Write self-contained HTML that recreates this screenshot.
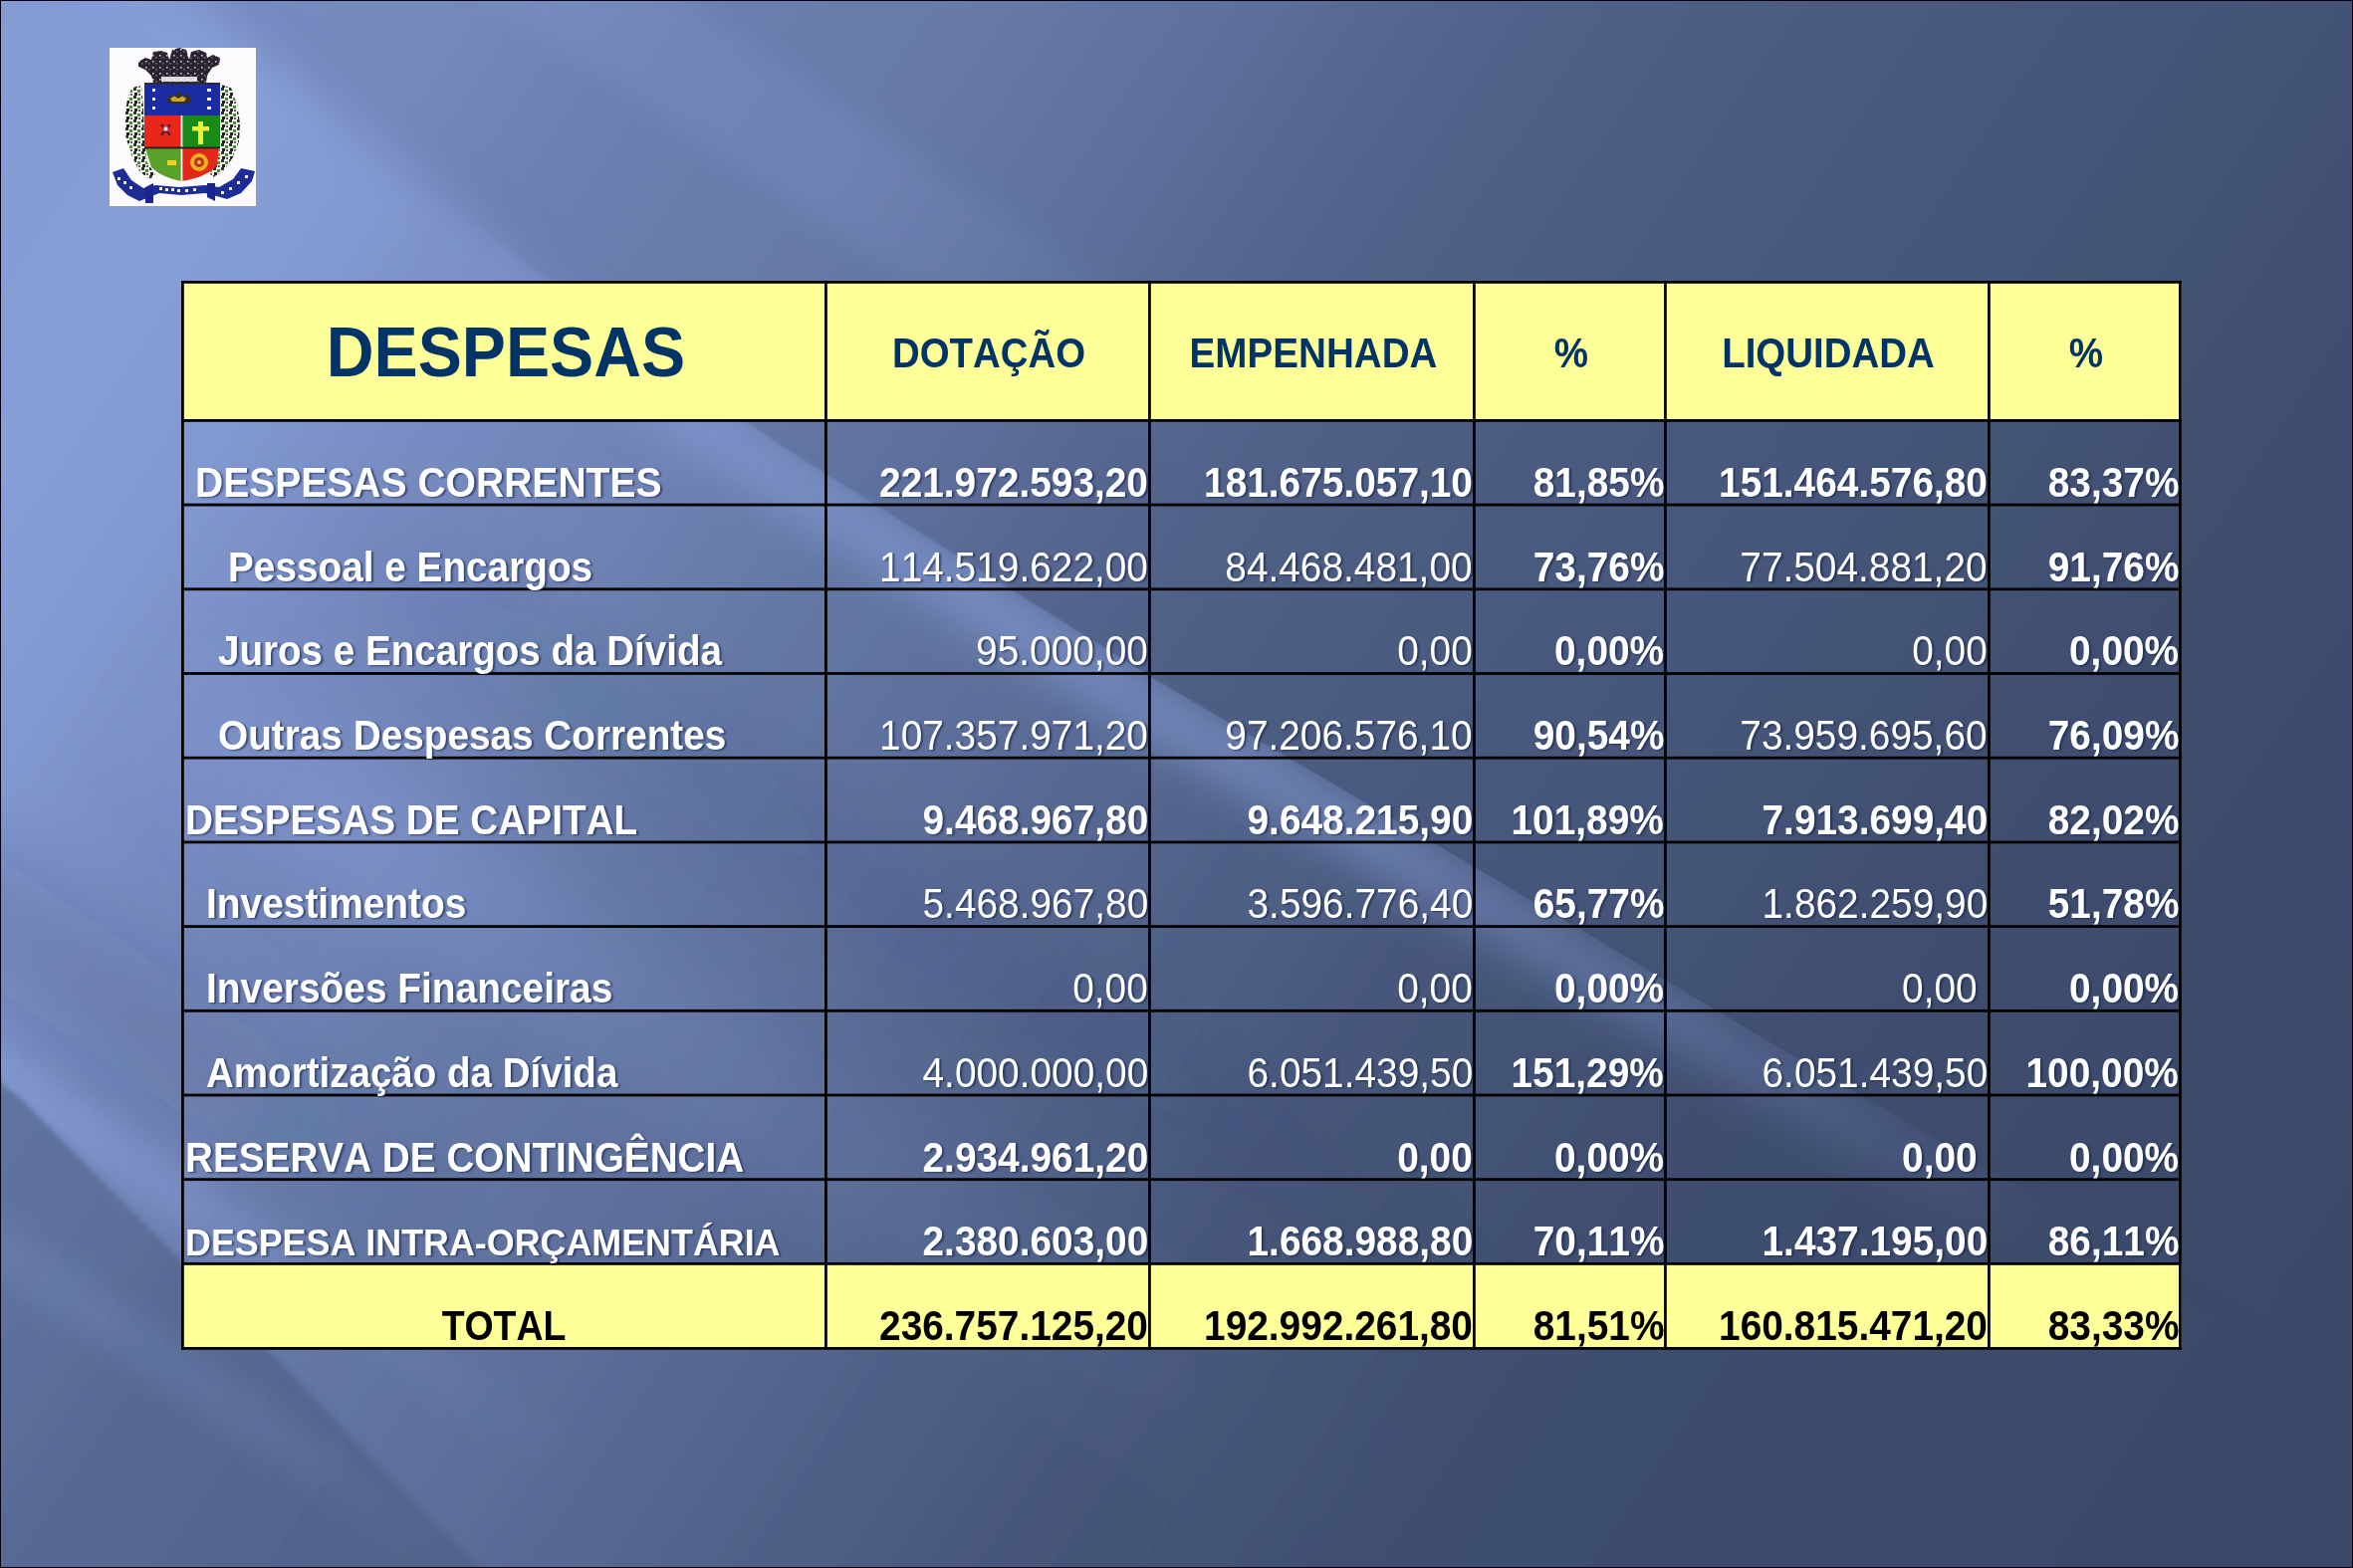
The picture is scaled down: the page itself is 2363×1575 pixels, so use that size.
<!DOCTYPE html>
<html><head><meta charset="utf-8"><title>Despesas</title>
<style>
html,body{margin:0;padding:0;}
body{width:2363px;height:1575px;overflow:hidden;position:relative;background:#000;font-family:"Liberation Sans",Arial,Helvetica,sans-serif;}
.abs{position:absolute;left:0;top:0;}
#bg{position:absolute;left:0;top:0;width:2363px;height:1575px;overflow:hidden;}
.bgl{position:absolute;left:0;top:0;width:2363px;height:1575px;}
#frame{position:absolute;left:0;top:0;width:2363px;height:1575px;box-sizing:border-box;border:1px solid #000014;}
.t{position:absolute;white-space:nowrap;font-weight:bold;font-kerning:none;}
</style></head><body>
<div id="bg"><svg class="abs" width="2363" height="1575" viewBox="0 0 2363 1575">
<defs><linearGradient id="mSharp" gradientUnits="userSpaceOnUse" x1="0" y1="0" x2="2354.3" y2="1588.0"><stop offset="0.0000" stop-color="#fff" stop-opacity="0.000"/><stop offset="0.1585" stop-color="#fff" stop-opacity="0.000"/><stop offset="0.2817" stop-color="#fff" stop-opacity="1.000"/><stop offset="1.0000" stop-color="#fff" stop-opacity="1.000"/></linearGradient><linearGradient id="mSoft" gradientUnits="userSpaceOnUse" x1="0" y1="0" x2="2354.3" y2="1588.0"><stop offset="0.0000" stop-color="#fff" stop-opacity="1.000"/><stop offset="0.1585" stop-color="#fff" stop-opacity="1.000"/><stop offset="0.2817" stop-color="#fff" stop-opacity="0.000"/><stop offset="1.0000" stop-color="#fff" stop-opacity="0.000"/></linearGradient><linearGradient id="gD" gradientUnits="userSpaceOnUse" x1="0" y1="0" x2="2354.3" y2="1588.0"><stop offset="0.0000" stop-color="rgb(120,141,194)" stop-opacity="1.000"/><stop offset="0.1373" stop-color="rgb(116,137,188)" stop-opacity="1.000"/><stop offset="0.1972" stop-color="rgb(108,128,177)" stop-opacity="1.000"/><stop offset="0.2817" stop-color="rgb(103,122,169)" stop-opacity="1.000"/><stop offset="0.3521" stop-color="rgb(95,114,158)" stop-opacity="1.000"/><stop offset="0.4226" stop-color="rgb(84,101,142)" stop-opacity="1.000"/><stop offset="0.5106" stop-color="rgb(76,93,130)" stop-opacity="1.000"/><stop offset="0.5810" stop-color="rgb(73,89,126)" stop-opacity="1.000"/><stop offset="0.6339" stop-color="rgb(70,86,122)" stop-opacity="1.000"/><stop offset="0.6867" stop-color="rgb(67,83,117)" stop-opacity="1.000"/><stop offset="0.7395" stop-color="rgb(64,79,113)" stop-opacity="1.000"/><stop offset="0.8451" stop-color="rgb(60,75,107)" stop-opacity="1.000"/><stop offset="1.0000" stop-color="rgb(58,73,104)" stop-opacity="1.000"/></linearGradient><linearGradient id="gL" gradientUnits="userSpaceOnUse" x1="0" y1="0" x2="2354.3" y2="1588.0"><stop offset="0.0000" stop-color="rgb(132,154,211)" stop-opacity="1.000"/><stop offset="0.0951" stop-color="rgb(135,158,216)" stop-opacity="1.000"/><stop offset="0.2042" stop-color="rgb(125,146,201)" stop-opacity="1.000"/><stop offset="0.2641" stop-color="rgb(114,134,185)" stop-opacity="1.000"/><stop offset="0.3169" stop-color="rgb(105,125,172)" stop-opacity="1.000"/><stop offset="0.3521" stop-color="rgb(100,119,165)" stop-opacity="1.000"/><stop offset="0.4226" stop-color="rgb(93,111,155)" stop-opacity="1.000"/><stop offset="0.4754" stop-color="rgb(86,104,145)" stop-opacity="1.000"/><stop offset="0.5458" stop-color="rgb(78,95,133)" stop-opacity="1.000"/><stop offset="0.5986" stop-color="rgb(71,87,123)" stop-opacity="1.000"/><stop offset="0.6515" stop-color="rgb(67,83,117)" stop-opacity="1.000"/><stop offset="0.7219" stop-color="rgb(63,78,111)" stop-opacity="1.000"/><stop offset="0.8451" stop-color="rgb(60,75,107)" stop-opacity="1.000"/><stop offset="1.0000" stop-color="rgb(58,73,104)" stop-opacity="1.000"/></linearGradient><linearGradient id="gLL" gradientUnits="userSpaceOnUse" x1="0" y1="0" x2="2354.3" y2="1588.0"><stop offset="0.0000" stop-color="rgb(100,119,165)" stop-opacity="1.000"/><stop offset="0.2113" stop-color="rgb(97,116,161)" stop-opacity="1.000"/><stop offset="0.2747" stop-color="rgb(93,111,155)" stop-opacity="1.000"/><stop offset="0.3169" stop-color="rgb(87,105,146)" stop-opacity="1.000"/><stop offset="0.3803" stop-color="rgb(84,101,142)" stop-opacity="1.000"/><stop offset="0.4578" stop-color="rgb(80,97,136)" stop-opacity="1.000"/><stop offset="0.5634" stop-color="rgb(74,90,127)" stop-opacity="1.000"/></linearGradient><linearGradient id="gRim" gradientUnits="userSpaceOnUse" x1="0" y1="0" x2="2354.3" y2="1588.0"><stop offset="0.0000" stop-color="rgb(160,185,252)" stop-opacity="0.000"/><stop offset="0.1761" stop-color="rgb(160,185,252)" stop-opacity="0.000"/><stop offset="0.2817" stop-color="rgb(160,185,252)" stop-opacity="0.300"/><stop offset="0.4226" stop-color="rgb(160,185,252)" stop-opacity="0.380"/><stop offset="0.5634" stop-color="rgb(160,185,252)" stop-opacity="0.380"/><stop offset="0.7043" stop-color="rgb(160,185,252)" stop-opacity="0.250"/><stop offset="0.8451" stop-color="rgb(160,185,252)" stop-opacity="0.000"/></linearGradient><linearGradient id="gD1" gradientUnits="userSpaceOnUse" x1="0" y1="0" x2="2354.3" y2="1588.0"><stop offset="0.0000" stop-color="rgb(40,53,78)" stop-opacity="0.000"/><stop offset="0.1937" stop-color="rgb(40,53,78)" stop-opacity="0.000"/><stop offset="0.2817" stop-color="rgb(40,53,78)" stop-opacity="0.080"/><stop offset="0.5282" stop-color="rgb(40,53,78)" stop-opacity="0.060"/><stop offset="0.7395" stop-color="rgb(40,53,78)" stop-opacity="0.000"/></linearGradient><linearGradient id="gB1" gradientUnits="userSpaceOnUse" x1="0" y1="0" x2="2354.3" y2="1588.0"><stop offset="0.0000" stop-color="rgb(160,185,252)" stop-opacity="0.000"/><stop offset="0.1761" stop-color="rgb(160,185,252)" stop-opacity="0.000"/><stop offset="0.2641" stop-color="rgb(160,185,252)" stop-opacity="0.220"/><stop offset="0.3874" stop-color="rgb(160,185,252)" stop-opacity="0.120"/><stop offset="0.5634" stop-color="rgb(160,185,252)" stop-opacity="0.050"/><stop offset="0.7043" stop-color="rgb(160,185,252)" stop-opacity="0.000"/></linearGradient><linearGradient id="gD2" gradientUnits="userSpaceOnUse" x1="0" y1="0" x2="2354.3" y2="1588.0"><stop offset="0.0000" stop-color="rgb(40,53,78)" stop-opacity="0.150"/><stop offset="0.1761" stop-color="rgb(40,53,78)" stop-opacity="0.150"/><stop offset="0.2817" stop-color="rgb(40,53,78)" stop-opacity="0.100"/><stop offset="0.3874" stop-color="rgb(40,53,78)" stop-opacity="0.000"/></linearGradient><linearGradient id="gR3" gradientUnits="userSpaceOnUse" x1="0" y1="0" x2="2354.3" y2="1588.0"><stop offset="0.0000" stop-color="rgb(160,185,252)" stop-opacity="0.250"/><stop offset="0.2465" stop-color="rgb(160,185,252)" stop-opacity="0.250"/><stop offset="0.3521" stop-color="rgb(160,185,252)" stop-opacity="0.100"/><stop offset="0.4578" stop-color="rgb(160,185,252)" stop-opacity="0.000"/></linearGradient><linearGradient id="gE2" gradientUnits="userSpaceOnUse" x1="0" y1="0" x2="2354.3" y2="1588.0"><stop offset="0.0000" stop-color="rgb(160,185,252)" stop-opacity="0.000"/><stop offset="0.1585" stop-color="rgb(160,185,252)" stop-opacity="0.100"/><stop offset="0.2817" stop-color="rgb(160,185,252)" stop-opacity="0.120"/><stop offset="0.3874" stop-color="rgb(160,185,252)" stop-opacity="0.040"/><stop offset="0.4578" stop-color="rgb(160,185,252)" stop-opacity="0.000"/></linearGradient><linearGradient id="gBS" gradientUnits="userSpaceOnUse" x1="0" y1="0" x2="2354.3" y2="1588.0"><stop offset="0.0000" stop-color="rgb(160,185,252)" stop-opacity="0.000"/><stop offset="0.2641" stop-color="rgb(160,185,252)" stop-opacity="0.120"/><stop offset="0.3521" stop-color="rgb(160,185,252)" stop-opacity="0.100"/><stop offset="0.4578" stop-color="rgb(160,185,252)" stop-opacity="0.000"/></linearGradient>
<filter id="bl2" x="-10%" y="-10%" width="120%" height="120%"><feGaussianBlur stdDeviation="3"/></filter>
<filter id="bRim" x="-10%" y="-10%" width="120%" height="120%"><feGaussianBlur stdDeviation="22"/></filter>
<filter id="bBand" x="-10%" y="-10%" width="120%" height="120%"><feGaussianBlur stdDeviation="35"/></filter>
<filter id="bE" x="-10%" y="-10%" width="120%" height="120%"><feGaussianBlur stdDeviation="12"/></filter>
<filter id="bSoft" x="-10%" y="-10%" width="120%" height="120%"><feGaussianBlur stdDeviation="22"/></filter>
<mask id="mkSharp" maskUnits="userSpaceOnUse" x="-300" y="-300" width="3000" height="2200"><rect x="-300" y="-300" width="3000" height="2200" fill="url(#mSharp)"/></mask>
<mask id="mkSoft" maskUnits="userSpaceOnUse" x="-300" y="-300" width="3000" height="2200"><rect x="-300" y="-300" width="3000" height="2200" fill="url(#mSoft)"/></mask>
<clipPath id="cL"><polygon points="150,-40 250,42 547,280 780,445 1156,680 1481,871 1800,1060 2500,1470 2500,1800 -300,1800 -300,-40"/></clipPath>
<clipPath id="cAboveE3"><polygon points="-100,1009 20,1103 184,1268 520,1615 560,1700 2600,1800 2600,-300 -300,-300"/></clipPath>
<clipPath id="cE3"><polygon points="-100,1009 20,1103 184,1268 520,1615 560,1700 -100,1800"/></clipPath>
<clipPath id="cAboveE1"><polygon points="150,-40 250,42 547,280 780,445 1156,680 1481,871 1800,1060 2500,1470 2600,-300 -300,-300"/></clipPath>
</defs>
<rect width="2363" height="1575" fill="url(#gD)"/>
<polygon points="150,-40 250,42 547,280 780,445 1156,680 1481,871 1800,1060 2500,1470 2500,1800 -300,1800 -300,-40" fill="url(#gL)" filter="url(#bl2)" mask="url(#mkSharp)"/>
<polygon points="150,-40 250,42 547,280 780,445 1156,680 1481,871 1800,1060 2500,1470 2500,1800 -300,1800 -300,-40" fill="url(#gL)" filter="url(#bSoft)" mask="url(#mkSoft)"/>
<g clip-path="url(#cAboveE1)"><polyline points="19,-385 2755,1460" stroke="url(#gE2)" stroke-width="110" fill="none" filter="url(#bE)"/></g>
<g clip-path="url(#cL)">
 <polyline points="132,-18 232,64 530,302 765,468 1141,704 1467,895 1786,1084 2486,1494" stroke="url(#gRim)" stroke-width="56" fill="none" filter="url(#bRim)"/>
 <polyline points="-306,95 2430,1941" stroke="url(#gD1)" stroke-width="90" fill="none" filter="url(#bBand)"/>
 <polyline points="-440,294 2296,2140" stroke="url(#gB1)" stroke-width="140" fill="none" filter="url(#bBand)"/>
 <g clip-path="url(#cAboveE3)"><polyline points="-596,527 2139,2372" stroke="url(#gD2)" stroke-width="110" fill="none" filter="url(#bBand)"/>
 <polyline points="-666,630 2070,2475" stroke="url(#gR3)" stroke-width="50" fill="none" filter="url(#bE)"/></g>
</g>
<polygon points="-100,1009 20,1103 184,1268 520,1615 560,1700 -100,1800" fill="url(#gLL)" filter="url(#bl2)"/>
<g clip-path="url(#cE3)"><polyline points="-747,750 1988,2596" stroke="url(#gBS)" stroke-width="50" fill="none" filter="url(#bE)"/></g>
</svg></div>
<svg class="abs" style="left:110px;top:48px" width="147" height="159" viewBox="0 0 147 159">
<defs>
<pattern id="spk" width="7" height="6" patternUnits="userSpaceOnUse">
<rect width="7" height="6" fill="#2a2330"/><rect x="1" y="1" width="1.6" height="1.6" fill="#c8c0d4"/><rect x="4" y="3" width="1.6" height="1.6" fill="#6a6478"/><rect x="5" y="0" width="1.2" height="1.2" fill="#1a2430"/>
</pattern>
<pattern id="wr" width="8" height="8" patternUnits="userSpaceOnUse">
<rect width="8" height="8" fill="#f6f2f6"/><rect x="0" y="0" width="3" height="3" fill="#2c3a28"/><rect x="4" y="2" width="3" height="3" fill="#4f8a3a"/><rect x="1" y="5" width="3" height="3" fill="#1e221e"/><rect x="5" y="6" width="2" height="2" fill="#6a5a5a"/>
</pattern>
</defs>
<rect width="147" height="159" fill="#fdfafd"/>
<!-- crown: towers -->
<path d="M29 14 L36 10 L42 12 L44 4 L52 3 L58 5 L60 12 L63 2 L70 0 L77 2 L80 12 L82 4 L90 2 L97 5 L98 10 L104 7 L111 10 L110 17 L103 20 L98 28 L97 35 L44 35 L42 28 L36 22 L29 19 Z" fill="url(#spk)"/>
<rect x="52" y="29" width="36" height="5" fill="#fdfafd" opacity="0.85"/>
<!-- wreath left -->
<path d="M22 40 L32 38 L34 60 L35 95 L38 115 L46 128 L40 132 L30 124 L22 108 L16 88 L15 68 L18 52 Z" fill="url(#wr)"/>
<!-- wreath right -->
<path d="M112 37 L122 40 L128 56 L131 76 L130 94 L124 110 L114 124 L104 130 L100 126 L108 116 L111 98 L111 60 L110 44 Z" fill="url(#wr)"/>
<!-- shield -->
<rect x="35" y="35" width="76" height="33" fill="#1b2ca2"/>
<rect x="35" y="35" width="76" height="2" fill="#2a2a3a"/>
<rect x="35" y="68" width="37" height="33" fill="#e8261a"/>
<rect x="72" y="68" width="39" height="33" fill="#178a18"/>
<path d="M36 101 L72 101 L72 134 Q52 130 42 120 Z" fill="#58a22c"/>
<path d="M72 101 L110 101 L108 118 Q98 130 72 134 Z" fill="#e2281a"/>
<rect x="71.6" y="68" width="1.8" height="66" fill="#f6f0f0"/>
<rect x="35" y="99.6" width="76" height="1.8" fill="#2a1a1a"/>
<!-- details -->
<g fill="#f5f0e0"><rect x="43" y="41" width="3" height="3"/><rect x="43" y="50" width="3" height="3"/><rect x="43" y="59" width="3" height="3"/><rect x="98" y="41" width="4" height="3"/><rect x="98" y="50" width="4" height="3"/><rect x="98" y="59" width="4" height="3"/></g>
<path d="M58 51 L62 46 L66 49 L70 43 L74 49 L78 46 L82 51 L80 56 L60 56 Z" fill="#3a3020"/>
<path d="M61 51 L65 48.5 L69 51 L73 48.5 L77 51 L75 54 L63 54 Z" fill="#c8a830"/>
<path d="M52 77 L61 88 M61 77 L52 88" stroke="#5a1a30" stroke-width="2.5"/>
<rect x="54.5" y="79.5" width="4" height="4" fill="#f0d0e0"/>
<rect x="89" y="74" width="5" height="23" fill="#f2ee30"/>
<rect x="83" y="79" width="17" height="4.5" fill="#f2ee30"/>
<rect x="58" y="113" width="9" height="5" fill="#f0d020"/>
<circle cx="90" cy="115" r="9" fill="#f0b020"/>
<circle cx="90" cy="115" r="5" fill="#c03020"/>
<circle cx="90" cy="115" r="2" fill="#f0d040"/>
<!-- ribbon -->
<path d="M3 125 L14 121 L22 133 L34 141 L46 138 L70 140 L96 138 L110 140 L124 132 L132 121 L146 124 L143 134 L132 146 L118 152 L104 148 L96 146 L72 148 L50 146 L40 150 L30 154 L18 148 L8 138 Z" fill="#1d2c96"/>
<path d="M36 140 L44 136 L44 156 L36 156 Z" fill="#1a2590"/>
<path d="M98 136 L106 136 L106 154 L98 150 Z" fill="#1a2590"/>
<g fill="#e8e8f4"><rect x="8" y="130" width="3" height="3"/><rect x="14" y="134" width="3" height="3"/><rect x="20" y="139" width="3" height="3"/><rect x="50" y="140" width="3" height="3"/><rect x="56" y="141" width="3" height="3"/><rect x="62" y="141" width="3" height="3"/><rect x="68" y="142" width="3" height="3"/><rect x="76" y="142" width="3" height="3"/><rect x="84" y="141" width="3" height="3"/><rect x="112" y="144" width="3" height="3"/><rect x="120" y="140" width="3" height="3"/><rect x="128" y="134" width="3" height="3"/><rect x="136" y="128" width="3" height="3"/></g>
</svg>

<svg class="abs" width="2363" height="1575" viewBox="0 0 2363 1575"><rect x="182" y="282" width="2008.8000000000002" height="139" fill="#ffff99"/><rect x="182" y="1268.00" width="2008.8000000000002" height="85.00" fill="#ffff99"/><rect x="182" y="282.00" width="2008.8000000000002" height="2.8" fill="#000"/><rect x="182" y="421.00" width="2008.8000000000002" height="2.8" fill="#000"/><rect x="182" y="505.70" width="2008.8000000000002" height="2.8" fill="#000"/><rect x="182" y="590.40" width="2008.8000000000002" height="2.8" fill="#000"/><rect x="182" y="675.10" width="2008.8000000000002" height="2.8" fill="#000"/><rect x="182" y="759.80" width="2008.8000000000002" height="2.8" fill="#000"/><rect x="182" y="844.50" width="2008.8000000000002" height="2.8" fill="#000"/><rect x="182" y="929.20" width="2008.8000000000002" height="2.8" fill="#000"/><rect x="182" y="1013.90" width="2008.8000000000002" height="2.8" fill="#000"/><rect x="182" y="1098.60" width="2008.8000000000002" height="2.8" fill="#000"/><rect x="182" y="1183.30" width="2008.8000000000002" height="2.8" fill="#000"/><rect x="182" y="1268.00" width="2008.8000000000002" height="2.8" fill="#000"/><rect x="182" y="1353.00" width="2008.8000000000002" height="2.8" fill="#000"/><rect x="182" y="282" width="2.8" height="1073.80" fill="#000"/><rect x="828" y="282" width="2.8" height="1073.80" fill="#000"/><rect x="1153" y="282" width="2.8" height="1073.80" fill="#000"/><rect x="1479" y="282" width="2.8" height="1073.80" fill="#000"/><rect x="1671" y="282" width="2.8" height="1073.80" fill="#000"/><rect x="1996" y="282" width="2.8" height="1073.80" fill="#000"/><rect x="2188" y="282" width="2.8" height="1073.80" fill="#000"/></svg>
<div class="t" style="top:320.27px;font-size:69.5px;line-height:69.5px;color:#003366;left:-92.10px;width:1200px;text-align:center;transform:scaleX(0.952);transform-origin:50% 0;">DESPESAS</div><div class="t" style="top:334.05px;font-size:42.0px;line-height:42.0px;color:#003366;left:392.90px;width:1200px;text-align:center;transform:scaleX(0.9137142857142857);transform-origin:50% 0;">DOTAÇÃO</div><div class="t" style="top:334.05px;font-size:42.0px;line-height:42.0px;color:#003366;left:719.40px;width:1200px;text-align:center;transform:scaleX(0.9190833333333334);transform-origin:50% 0;">EMPENHADA</div><div class="t" style="top:334.05px;font-size:42.0px;line-height:42.0px;color:#003366;left:978.40px;width:1200px;text-align:center;transform:scaleX(0.9176190476190476);transform-origin:50% 0;">%</div><div class="t" style="top:334.05px;font-size:42.0px;line-height:42.0px;color:#003366;left:1236.40px;width:1200px;text-align:center;transform:scaleX(0.9156666666666666);transform-origin:50% 0;">LIQUIDADA</div><div class="t" style="top:334.05px;font-size:42.0px;line-height:42.0px;color:#003366;left:1495.40px;width:1200px;text-align:center;transform:scaleX(0.9176190476190476);transform-origin:50% 0;">%</div><div class="t" style="top:463.95px;font-size:42.0px;line-height:42.0px;color:#fff;text-shadow:2.2px 1px 2px rgba(20,30,70,.62);left:196.20px;transform:scaleX(0.9293333333333332);transform-origin:0 0;">DESPESAS CORRENTES</div><div class="t" style="top:463.95px;font-size:42.0px;line-height:42.0px;color:#fff;text-shadow:2.2px 1px 2px rgba(20,30,70,.62);right:1210.00px;transform:scaleX(0.9244523809523809);transform-origin:100% 0;">221.972.593,20</div><div class="t" style="top:463.95px;font-size:42.0px;line-height:42.0px;color:#fff;text-shadow:2.2px 1px 2px rgba(20,30,70,.62);right:884.00px;transform:scaleX(0.9244523809523809);transform-origin:100% 0;">181.675.057,10</div><div class="t" style="top:463.95px;font-size:42.0px;line-height:42.0px;color:#fff;text-shadow:2.2px 1px 2px rgba(20,30,70,.62);right:692.00px;transform:scaleX(0.9244523809523809);transform-origin:100% 0;">81,85%</div><div class="t" style="top:463.95px;font-size:42.0px;line-height:42.0px;color:#fff;text-shadow:2.2px 1px 2px rgba(20,30,70,.62);right:367.00px;transform:scaleX(0.9244523809523809);transform-origin:100% 0;">151.464.576,80</div><div class="t" style="top:463.95px;font-size:42.0px;line-height:42.0px;color:#fff;text-shadow:2.2px 1px 2px rgba(20,30,70,.62);right:175.00px;transform:scaleX(0.9244523809523809);transform-origin:100% 0;">83,37%</div><div class="t" style="top:548.65px;font-size:42.0px;line-height:42.0px;color:#fff;text-shadow:2.2px 1px 2px rgba(20,30,70,.62);left:229.20px;transform:scaleX(0.9224999999999999);transform-origin:0 0;">Pessoal e Encargos</div><div class="t" style="top:548.65px;font-size:42.0px;line-height:42.0px;color:#fff;font-weight:normal;text-shadow:2.2px 1px 2px rgba(20,30,70,.62);right:1210.00px;transform:scaleX(0.9244523809523809);transform-origin:100% 0;">114.519.622,00</div><div class="t" style="top:548.65px;font-size:42.0px;line-height:42.0px;color:#fff;font-weight:normal;text-shadow:2.2px 1px 2px rgba(20,30,70,.62);right:884.00px;transform:scaleX(0.9244523809523809);transform-origin:100% 0;">84.468.481,00</div><div class="t" style="top:548.65px;font-size:42.0px;line-height:42.0px;color:#fff;text-shadow:2.2px 1px 2px rgba(20,30,70,.62);right:692.00px;transform:scaleX(0.9244523809523809);transform-origin:100% 0;">73,76%</div><div class="t" style="top:548.65px;font-size:42.0px;line-height:42.0px;color:#fff;font-weight:normal;text-shadow:2.2px 1px 2px rgba(20,30,70,.62);right:367.00px;transform:scaleX(0.9244523809523809);transform-origin:100% 0;">77.504.881,20</div><div class="t" style="top:548.65px;font-size:42.0px;line-height:42.0px;color:#fff;text-shadow:2.2px 1px 2px rgba(20,30,70,.62);right:175.00px;transform:scaleX(0.9244523809523809);transform-origin:100% 0;">91,76%</div><div class="t" style="top:633.35px;font-size:42.0px;line-height:42.0px;color:#fff;text-shadow:2.2px 1px 2px rgba(20,30,70,.62);left:218.70px;transform:scaleX(0.918595238095238);transform-origin:0 0;">Juros e Encargos da Dívida</div><div class="t" style="top:633.35px;font-size:42.0px;line-height:42.0px;color:#fff;font-weight:normal;text-shadow:2.2px 1px 2px rgba(20,30,70,.62);right:1210.00px;transform:scaleX(0.9244523809523809);transform-origin:100% 0;">95.000,00</div><div class="t" style="top:633.35px;font-size:42.0px;line-height:42.0px;color:#fff;font-weight:normal;text-shadow:2.2px 1px 2px rgba(20,30,70,.62);right:884.00px;transform:scaleX(0.9244523809523809);transform-origin:100% 0;">0,00</div><div class="t" style="top:633.35px;font-size:42.0px;line-height:42.0px;color:#fff;text-shadow:2.2px 1px 2px rgba(20,30,70,.62);right:692.00px;transform:scaleX(0.9244523809523809);transform-origin:100% 0;">0,00%</div><div class="t" style="top:633.35px;font-size:42.0px;line-height:42.0px;color:#fff;font-weight:normal;text-shadow:2.2px 1px 2px rgba(20,30,70,.62);right:367.00px;transform:scaleX(0.9244523809523809);transform-origin:100% 0;">0,00</div><div class="t" style="top:633.35px;font-size:42.0px;line-height:42.0px;color:#fff;text-shadow:2.2px 1px 2px rgba(20,30,70,.62);right:175.00px;transform:scaleX(0.9244523809523809);transform-origin:100% 0;">0,00%</div><div class="t" style="top:718.05px;font-size:42.0px;line-height:42.0px;color:#fff;text-shadow:2.2px 1px 2px rgba(20,30,70,.62);left:218.70px;transform:scaleX(0.9224999999999999);transform-origin:0 0;">Outras Despesas Correntes</div><div class="t" style="top:718.05px;font-size:42.0px;line-height:42.0px;color:#fff;font-weight:normal;text-shadow:2.2px 1px 2px rgba(20,30,70,.62);right:1210.00px;transform:scaleX(0.9244523809523809);transform-origin:100% 0;">107.357.971,20</div><div class="t" style="top:718.05px;font-size:42.0px;line-height:42.0px;color:#fff;font-weight:normal;text-shadow:2.2px 1px 2px rgba(20,30,70,.62);right:884.00px;transform:scaleX(0.9244523809523809);transform-origin:100% 0;">97.206.576,10</div><div class="t" style="top:718.05px;font-size:42.0px;line-height:42.0px;color:#fff;text-shadow:2.2px 1px 2px rgba(20,30,70,.62);right:692.00px;transform:scaleX(0.9244523809523809);transform-origin:100% 0;">90,54%</div><div class="t" style="top:718.05px;font-size:42.0px;line-height:42.0px;color:#fff;font-weight:normal;text-shadow:2.2px 1px 2px rgba(20,30,70,.62);right:367.00px;transform:scaleX(0.9244523809523809);transform-origin:100% 0;">73.959.695,60</div><div class="t" style="top:718.05px;font-size:42.0px;line-height:42.0px;color:#fff;text-shadow:2.2px 1px 2px rgba(20,30,70,.62);right:175.00px;transform:scaleX(0.9244523809523809);transform-origin:100% 0;">76,09%</div><div class="t" style="top:802.75px;font-size:42.0px;line-height:42.0px;color:#fff;text-shadow:2.2px 1px 2px rgba(20,30,70,.62);left:186.20px;transform:scaleX(0.9224999999999999);transform-origin:0 0;">DESPESAS DE CAPITAL</div><div class="t" style="top:802.75px;font-size:42.0px;line-height:42.0px;color:#fff;text-shadow:2.2px 1px 2px rgba(20,30,70,.62);right:1210.00px;transform:scaleX(0.9244523809523809);transform-origin:100% 0;">9.468.967,80</div><div class="t" style="top:802.75px;font-size:42.0px;line-height:42.0px;color:#fff;text-shadow:2.2px 1px 2px rgba(20,30,70,.62);right:884.00px;transform:scaleX(0.9244523809523809);transform-origin:100% 0;">9.648.215,90</div><div class="t" style="top:802.75px;font-size:42.0px;line-height:42.0px;color:#fff;text-shadow:2.2px 1px 2px rgba(20,30,70,.62);right:692.00px;transform:scaleX(0.9244523809523809);transform-origin:100% 0;">101,89%</div><div class="t" style="top:802.75px;font-size:42.0px;line-height:42.0px;color:#fff;text-shadow:2.2px 1px 2px rgba(20,30,70,.62);right:367.00px;transform:scaleX(0.9244523809523809);transform-origin:100% 0;">7.913.699,40</div><div class="t" style="top:802.75px;font-size:42.0px;line-height:42.0px;color:#fff;text-shadow:2.2px 1px 2px rgba(20,30,70,.62);right:175.00px;transform:scaleX(0.9244523809523809);transform-origin:100% 0;">82,02%</div><div class="t" style="top:887.45px;font-size:42.0px;line-height:42.0px;color:#fff;text-shadow:2.2px 1px 2px rgba(20,30,70,.62);left:207.20px;transform:scaleX(0.9254285714285714);transform-origin:0 0;">Investimentos</div><div class="t" style="top:887.45px;font-size:42.0px;line-height:42.0px;color:#fff;font-weight:normal;text-shadow:2.2px 1px 2px rgba(20,30,70,.62);right:1210.00px;transform:scaleX(0.9244523809523809);transform-origin:100% 0;">5.468.967,80</div><div class="t" style="top:887.45px;font-size:42.0px;line-height:42.0px;color:#fff;font-weight:normal;text-shadow:2.2px 1px 2px rgba(20,30,70,.62);right:884.00px;transform:scaleX(0.9244523809523809);transform-origin:100% 0;">3.596.776,40</div><div class="t" style="top:887.45px;font-size:42.0px;line-height:42.0px;color:#fff;text-shadow:2.2px 1px 2px rgba(20,30,70,.62);right:692.00px;transform:scaleX(0.9244523809523809);transform-origin:100% 0;">65,77%</div><div class="t" style="top:887.45px;font-size:42.0px;line-height:42.0px;color:#fff;font-weight:normal;text-shadow:2.2px 1px 2px rgba(20,30,70,.62);right:367.00px;transform:scaleX(0.9244523809523809);transform-origin:100% 0;">1.862.259,90</div><div class="t" style="top:887.45px;font-size:42.0px;line-height:42.0px;color:#fff;text-shadow:2.2px 1px 2px rgba(20,30,70,.62);right:175.00px;transform:scaleX(0.9244523809523809);transform-origin:100% 0;">51,78%</div><div class="t" style="top:972.15px;font-size:42.0px;line-height:42.0px;color:#fff;text-shadow:2.2px 1px 2px rgba(20,30,70,.62);left:207.20px;transform:scaleX(0.9254285714285714);transform-origin:0 0;">Inversões Financeiras</div><div class="t" style="top:972.15px;font-size:42.0px;line-height:42.0px;color:#fff;font-weight:normal;text-shadow:2.2px 1px 2px rgba(20,30,70,.62);right:1210.00px;transform:scaleX(0.9244523809523809);transform-origin:100% 0;">0,00</div><div class="t" style="top:972.15px;font-size:42.0px;line-height:42.0px;color:#fff;font-weight:normal;text-shadow:2.2px 1px 2px rgba(20,30,70,.62);right:884.00px;transform:scaleX(0.9244523809523809);transform-origin:100% 0;">0,00</div><div class="t" style="top:972.15px;font-size:42.0px;line-height:42.0px;color:#fff;text-shadow:2.2px 1px 2px rgba(20,30,70,.62);right:692.00px;transform:scaleX(0.9244523809523809);transform-origin:100% 0;">0,00%</div><div class="t" style="top:972.15px;font-size:42.0px;line-height:42.0px;color:#fff;font-weight:normal;text-shadow:2.2px 1px 2px rgba(20,30,70,.62);right:367.00px;transform:scaleX(0.9244523809523809);transform-origin:100% 0;">0,00&nbsp;</div><div class="t" style="top:972.15px;font-size:42.0px;line-height:42.0px;color:#fff;text-shadow:2.2px 1px 2px rgba(20,30,70,.62);right:175.00px;transform:scaleX(0.9244523809523809);transform-origin:100% 0;">0,00%</div><div class="t" style="top:1056.85px;font-size:42.0px;line-height:42.0px;color:#fff;text-shadow:2.2px 1px 2px rgba(20,30,70,.62);left:207.20px;transform:scaleX(0.9176190476190476);transform-origin:0 0;">Amortização da Dívida</div><div class="t" style="top:1056.85px;font-size:42.0px;line-height:42.0px;color:#fff;font-weight:normal;text-shadow:2.2px 1px 2px rgba(20,30,70,.62);right:1210.00px;transform:scaleX(0.9244523809523809);transform-origin:100% 0;">4.000.000,00</div><div class="t" style="top:1056.85px;font-size:42.0px;line-height:42.0px;color:#fff;font-weight:normal;text-shadow:2.2px 1px 2px rgba(20,30,70,.62);right:884.00px;transform:scaleX(0.9244523809523809);transform-origin:100% 0;">6.051.439,50</div><div class="t" style="top:1056.85px;font-size:42.0px;line-height:42.0px;color:#fff;text-shadow:2.2px 1px 2px rgba(20,30,70,.62);right:692.00px;transform:scaleX(0.9244523809523809);transform-origin:100% 0;">151,29%</div><div class="t" style="top:1056.85px;font-size:42.0px;line-height:42.0px;color:#fff;font-weight:normal;text-shadow:2.2px 1px 2px rgba(20,30,70,.62);right:367.00px;transform:scaleX(0.9244523809523809);transform-origin:100% 0;">6.051.439,50</div><div class="t" style="top:1056.85px;font-size:42.0px;line-height:42.0px;color:#fff;text-shadow:2.2px 1px 2px rgba(20,30,70,.62);right:175.00px;transform:scaleX(0.9244523809523809);transform-origin:100% 0;">100,00%</div><div class="t" style="top:1141.55px;font-size:42.0px;line-height:42.0px;color:#fff;text-shadow:2.2px 1px 2px rgba(20,30,70,.62);left:186.20px;transform:scaleX(0.9215238095238094);transform-origin:0 0;">RESERVA DE CONTINGÊNCIA</div><div class="t" style="top:1141.55px;font-size:42.0px;line-height:42.0px;color:#fff;text-shadow:2.2px 1px 2px rgba(20,30,70,.62);right:1210.00px;transform:scaleX(0.9244523809523809);transform-origin:100% 0;">2.934.961,20</div><div class="t" style="top:1141.55px;font-size:42.0px;line-height:42.0px;color:#fff;text-shadow:2.2px 1px 2px rgba(20,30,70,.62);right:884.00px;transform:scaleX(0.9244523809523809);transform-origin:100% 0;">0,00</div><div class="t" style="top:1141.55px;font-size:42.0px;line-height:42.0px;color:#fff;text-shadow:2.2px 1px 2px rgba(20,30,70,.62);right:692.00px;transform:scaleX(0.9244523809523809);transform-origin:100% 0;">0,00%</div><div class="t" style="top:1141.55px;font-size:42.0px;line-height:42.0px;color:#fff;text-shadow:2.2px 1px 2px rgba(20,30,70,.62);right:367.00px;transform:scaleX(0.9244523809523809);transform-origin:100% 0;">0,00&nbsp;</div><div class="t" style="top:1141.55px;font-size:42.0px;line-height:42.0px;color:#fff;text-shadow:2.2px 1px 2px rgba(20,30,70,.62);right:175.00px;transform:scaleX(0.9244523809523809);transform-origin:100% 0;">0,00%</div><div class="t" style="top:1230.06px;font-size:37.5px;line-height:37.5px;color:#fff;text-shadow:2.2px 1px 2px rgba(20,30,70,.62);left:186.20px;transform:scaleX(0.956);transform-origin:0 0;">DESPESA INTRA-ORÇAMENTÁRIA</div><div class="t" style="top:1226.25px;font-size:42.0px;line-height:42.0px;color:#fff;text-shadow:2.2px 1px 2px rgba(20,30,70,.62);right:1210.00px;transform:scaleX(0.9244523809523809);transform-origin:100% 0;">2.380.603,00</div><div class="t" style="top:1226.25px;font-size:42.0px;line-height:42.0px;color:#fff;text-shadow:2.2px 1px 2px rgba(20,30,70,.62);right:884.00px;transform:scaleX(0.9244523809523809);transform-origin:100% 0;">1.668.988,80</div><div class="t" style="top:1226.25px;font-size:42.0px;line-height:42.0px;color:#fff;text-shadow:2.2px 1px 2px rgba(20,30,70,.62);right:692.00px;transform:scaleX(0.9244523809523809);transform-origin:100% 0;">70,11%</div><div class="t" style="top:1226.25px;font-size:42.0px;line-height:42.0px;color:#fff;text-shadow:2.2px 1px 2px rgba(20,30,70,.62);right:367.00px;transform:scaleX(0.9244523809523809);transform-origin:100% 0;">1.437.195,00</div><div class="t" style="top:1226.25px;font-size:42.0px;line-height:42.0px;color:#fff;text-shadow:2.2px 1px 2px rgba(20,30,70,.62);right:175.00px;transform:scaleX(0.9244523809523809);transform-origin:100% 0;">86,11%</div><div class="t" style="top:1311.05px;font-size:42.0px;line-height:42.0px;color:#000;left:-93.60px;width:1200px;text-align:center;transform:scaleX(0.8912619047619048);transform-origin:50% 0;">TOTAL</div><div class="t" style="top:1311.05px;font-size:42.0px;line-height:42.0px;color:#000;right:1210.00px;transform:scaleX(0.9244523809523809);transform-origin:100% 0;">236.757.125,20</div><div class="t" style="top:1311.05px;font-size:42.0px;line-height:42.0px;color:#000;right:884.00px;transform:scaleX(0.9244523809523809);transform-origin:100% 0;">192.992.261,80</div><div class="t" style="top:1311.05px;font-size:42.0px;line-height:42.0px;color:#000;right:692.00px;transform:scaleX(0.9244523809523809);transform-origin:100% 0;">81,51%</div><div class="t" style="top:1311.05px;font-size:42.0px;line-height:42.0px;color:#000;right:367.00px;transform:scaleX(0.9244523809523809);transform-origin:100% 0;">160.815.471,20</div><div class="t" style="top:1311.05px;font-size:42.0px;line-height:42.0px;color:#000;right:175.00px;transform:scaleX(0.9244523809523809);transform-origin:100% 0;">83,33%</div>
<div id="frame"></div>
</body></html>
